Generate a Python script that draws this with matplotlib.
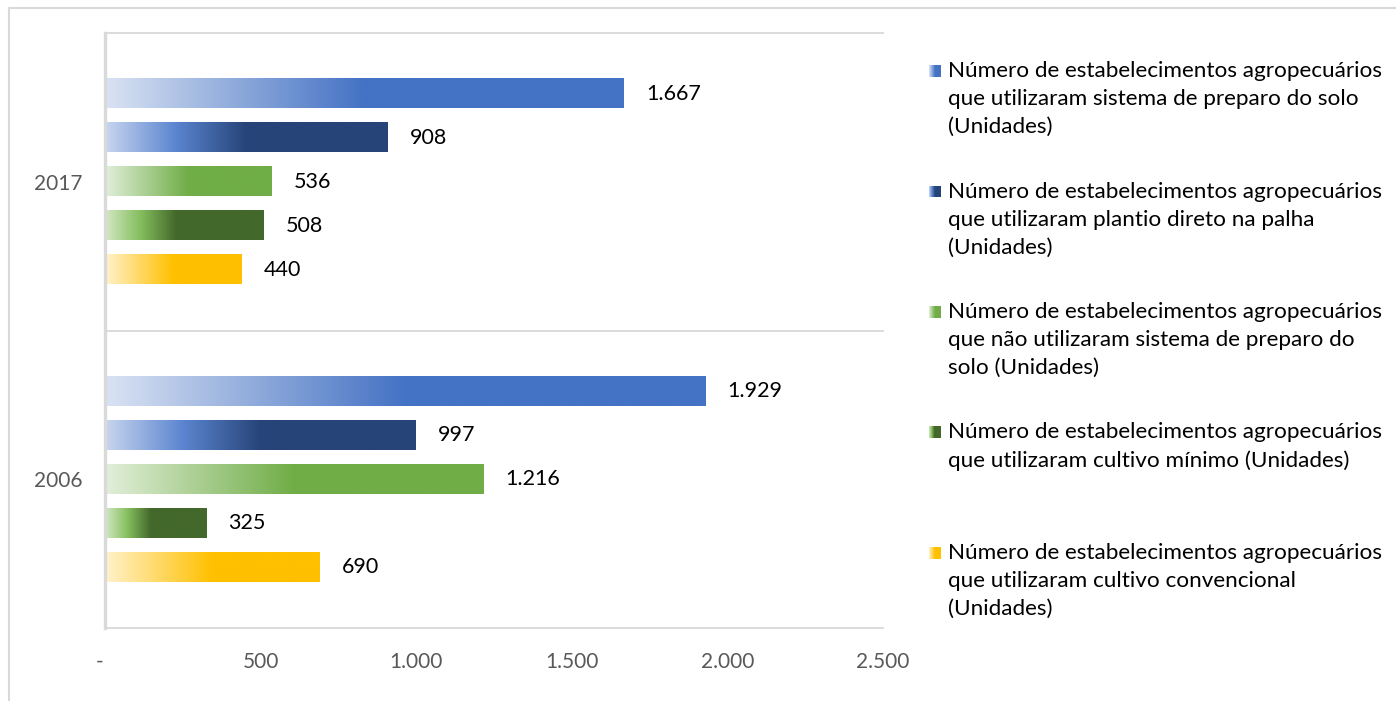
import numpy as np
import matplotlib.pyplot as plt
from matplotlib.lines import Line2D
from matplotlib.colors import to_rgb

plt.rcParams['font.family'] = ['Lato', 'DejaVu Sans']

anos = ['2006', '2017']

series = [
    'Número de estabelecimentos agropecuários\nque utilizaram sistema de preparo do solo\n(Unidades)',
    'Número de estabelecimentos agropecuários\nque utilizaram plantio direto na palha\n(Unidades)',
    'Número de estabelecimentos agropecuários\nque não utilizaram sistema de preparo do\nsolo (Unidades)',
    'Número de estabelecimentos agropecuários\nque utilizaram cultivo mínimo (Unidades)',
    'Número de estabelecimentos agropecuários\nque utilizaram cultivo convencional\n(Unidades)',
]

# valores por série: [2006, 2017]
preparo_solo = [1929, 1667]
plantio_direto = [997, 908]
sem_preparo = [1216, 536]
cultivo_minimo = [325, 508]
cultivo_convencional = [690, 440]
valores = [preparo_solo, plantio_direto, sem_preparo, cultivo_minimo, cultivo_convencional]

xticks = [0, 500, 1000, 1500, 2000, 2500]

# degradês (posição relativa, cor)
degrades = [
    [(0.0, '#dae3f3'), (0.5, '#4472c4'), (1.0, '#4472c4')],
    [(0.0, '#c9d6ef'), (0.25, '#5b85d0'), (0.5, '#264478'), (1.0, '#264478')],
    [(0.0, '#e2efda'), (0.5, '#70ad47'), (1.0, '#70ad47')],
    [(0.0, '#d3e8c4'), (0.22, '#86bf5f'), (0.45, '#43682b'), (1.0, '#43682b')],
    [(0.0, '#fff2cc'), (0.5, '#ffc000'), (1.0, '#ffc000')],
]


def gradiente(stops, n=400):
    pos = np.array([s[0] for s in stops])
    cores = np.array([to_rgb(s[1]) for s in stops])
    t = np.linspace(0, 1, n)
    img = np.stack([np.interp(t, pos, cores[:, k]) for k in range(3)], axis=-1)
    return img[np.newaxis, :, :]


def fmt(v):
    return f'{v:,}'.replace(',', '.')


W, H = 1396, 701
fig = plt.figure(figsize=(W / 100, H / 100), dpi=100)
ax = fig.add_axes([105 / W, 1 - 628 / H, (883 - 105) / W, (628 - 33) / H])

y_cat = np.arange(len(anos))
d = 0.148
altura = 0.098

for i, serie in enumerate(valores):
    ys = y_cat + (2 - i) * d
    barras = ax.barh(ys, serie, height=altura, color='none', edgecolor='none')
    img = gradiente(degrades[i])
    for b, v in zip(barras, serie):
        x0, y0 = b.get_x(), b.get_y()
        ax.imshow(img, extent=(x0, x0 + b.get_width(), y0, y0 + b.get_height()),
                  aspect='auto', interpolation='bilinear', zorder=2)
        ax.annotate(fmt(v), (x0 + b.get_width(), y0 + b.get_height() / 2),
                    xytext=(16, 0), textcoords='offset points',
                    ha='left', va='center', fontsize=15.5, color='#000000')

ax.set_xlim(0, 2500)
ax.set_ylim(-0.5, 1.5)
ax.set_xticks(xticks)
ax.set_xticklabels(['-  '] + [fmt(v) for v in xticks[1:]])
ax.set_yticks(y_cat)
ax.set_yticklabels(anos)
ax.tick_params(length=0, labelsize=15, labelcolor='#595959')
ax.tick_params(axis='x', pad=17)
ax.tick_params(axis='y', pad=16)

for s in ['top', 'right', 'bottom']:
    ax.spines[s].set_visible(False)
ax.spines['left'].set_color('#d9d9d9')
ax.spines['left'].set_linewidth(2.4)

for yl in [-0.5, 0.5, 1.5]:
    ax.axhline(yl, color='#d9d9d9', lw=1.3, clip_on=False, zorder=1)

# legenda desenhada à mão (entradas com espaçamento igual)
for i, rotulo in enumerate(series):
    y_top = 71 + 120.5 * i
    lax = fig.add_axes([929 / W, 1 - (y_top + 6) / H, 12 / W, 12 / H])
    lax.imshow(gradiente(degrades[i]), aspect='auto', interpolation='bilinear')
    lax.axis('off')
    for j, linha in enumerate(rotulo.split('\n')):
        fig.text(948 / W, 1 - (y_top + 28 * j) / H, linha, ha='left', va='center',
                 fontsize=16.2, color='#000000')

# moldura externa do gráfico
fig.add_artist(Line2D([9 / W, 9 / W, 1], [0, 1 - 8 / H, 1 - 8 / H],
                      color='#d9d9d9', lw=1.5))

fig.savefig('out.png', dpi=100, facecolor='white')
